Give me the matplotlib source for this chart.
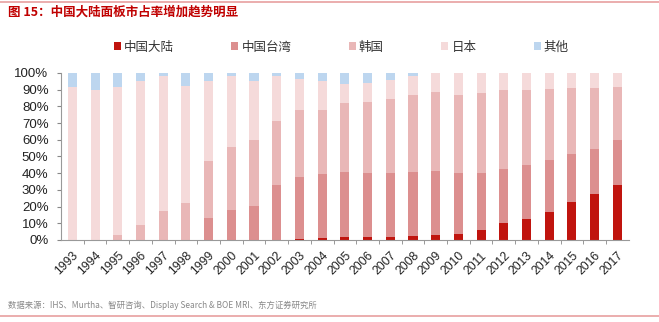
import matplotlib
matplotlib.use("Agg")
import matplotlib.pyplot as plt
import numpy as np

plt.rcParams['font.family'] = ['Noto Sans CJK SC', 'DejaVu Sans']

years = [str(y) for y in range(1993, 2018)]
series_names = ["中国大陆", "中国台湾", "韩国", "日本", "其他"]

china = [0, 0, 0, 0, 0, 0, 0, 0, 0, 0,
         0.8, 1.0, 1.6, 1.8, 2.0, 2.3, 3.0, 3.6, 5.8, 10.0,
         12.6, 16.6, 22.6, 27.3, 32.9]
taiwan = [0, 0, 0, 0, 0, 0, 13.0, 18.0, 20.6, 33.1,
          36.7, 38.3, 39.1, 38.5, 38.3, 38.2, 38.1, 36.5, 34.3, 32.3,
          32.1, 31.3, 29.1, 27.4, 27.0]
korea = [0, 0, 3.0, 9.0, 17.2, 22.4, 34.3, 37.5, 39.5, 38.4,
         40.3, 38.5, 41.1, 42.1, 44.1, 46.3, 47.3, 46.9, 48.1, 47.5,
         45.3, 42.5, 39.1, 36.5, 31.9]
japan = [91.4, 89.8, 88.4, 86.4, 81.2, 70.0, 48.1, 42.9, 35.3, 26.9,
         18.6, 17.6, 11.6, 11.6, 11.6, 11.2, 11.6, 13.0, 11.8, 10.2,
         10.0, 9.6, 9.2, 8.8, 8.2]
other = [8.6, 10.2, 8.6, 4.6, 1.6, 7.6, 4.6, 1.6, 4.6, 1.6,
         3.6, 4.6, 6.6, 6.0, 4.0, 2.0, 0, 0, 0, 0,
         0, 0, 0, 0, 0]

colors = ["#c0140e", "#dc8f8f", "#e9b7b7", "#f5dada", "#bdd6ef"]

fig = plt.figure(figsize=(6.59, 3.22), dpi=100)
ax = fig.add_axes([0.0926, 0.2547, 0.8614, 0.5186])

x = np.arange(len(years))
bottom = np.zeros(len(years))
handles = []
for vals, name, c in zip([china, taiwan, korea, japan, other], series_names, colors):
    b = ax.bar(x, vals, width=0.4, bottom=bottom, color=c, label=name, linewidth=0)
    handles.append(b)
    bottom += np.array(vals)

ax.set_xlim(-0.5, len(years) - 0.5)
ax.set_ylim(0, 100)
ax.set_yticks(np.arange(0, 101, 10))
ax.set_yticklabels([f"{v}%" for v in range(0, 101, 10)], fontsize=9.5,
                   family=['Liberation Sans', 'DejaVu Sans'], color='#222222')
ax.set_xticks(x)
ax.set_xticklabels(years, rotation=45, ha='right', rotation_mode='anchor', fontsize=8.8,
                   family=['Liberation Sans', 'DejaVu Sans'], color='#222222')
ax.set_xticks(x[:-1] + 0.5, minor=True)
ax.tick_params(axis='x', which='major', length=0, pad=7)
ax.tick_params(axis='x', which='minor', length=3, color='#888888')
ax.tick_params(axis='y', length=3, color='#888888', pad=6)
for s in ['top', 'right']:
    ax.spines[s].set_visible(False)
for s in ['left', 'bottom']:
    ax.spines[s].set_color('#999999')
    ax.spines[s].set_linewidth(0.8)

fig.legend(handles=handles, labels=series_names, loc='center', bbox_to_anchor=(0.518, 0.854),
           ncol=5, frameon=False, fontsize=9, handlelength=0.55, handleheight=0.55,
           handletextpad=0.25, columnspacing=4.6, labelcolor='#333333')

fig.text(0.012, 0.962, "图 15：中国大陆面板市占率增加趋势明显", fontsize=9, fontweight='bold',
         color='#c00000', ha='left', va='center')
fig.text(0.012, 0.053, "数据来源：IHS、Murtha、智研咨询、Display Search & BOE MRI、东方证券研究所",
         fontsize=6, color='#888888', ha='left', va='center')

fig.add_artist(plt.Line2D([0, 1], [0.995, 0.995], color='#e8a0a0', linewidth=1.2,
                          transform=fig.transFigure))
fig.add_artist(plt.Line2D([0, 1], [0.018, 0.018], color='#e8a0a0', linewidth=1.2,
                          transform=fig.transFigure))

fig.savefig("out.png", dpi=100)
